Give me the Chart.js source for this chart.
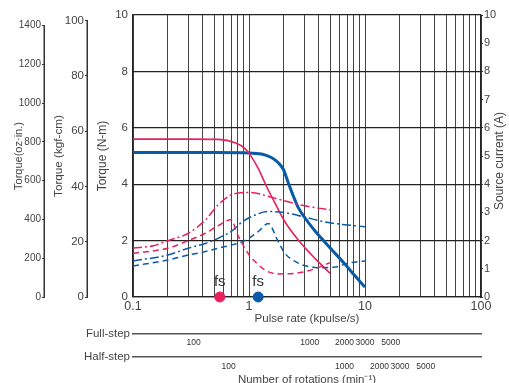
<!DOCTYPE html>
<html>
<head>
<meta charset="utf-8">
<script src="https://cdn.jsdelivr.net/npm/chart.js@4"></script>
<style>
  html, body { margin: 0; padding: 0; overflow: hidden; background: #fff; }
  #wrap { width: 509px; height: 388px; }
</style>
</head>
<body>
<div id="wrap"><canvas id="torqueChart"></canvas></div>
<script>
const RED = '#e8205c';
const BLUE = '#0a5aa8';
const INK = '#444';
const GRID = '#444';
const FONT = "'Liberation Sans', Arial, sans-serif";

// axis ticks
const pulseTicks = [0.1, 0.2, 0.3, 0.4, 0.5, 0.6, 0.7, 0.8, 0.9, 1, 2, 3, 4, 5, 6, 7, 8, 9, 10, 20, 30, 40, 50, 60, 70, 80, 90, 100];
const pulseLabels = [0.1, 1, 10, 100];
const nmTicks = [0, 2, 4, 6, 8, 10];
const kgfTicks = [0, 20, 40, 60, 80, 100];
const ozTicks = [0, 200, 400, 600, 800, 1000, 1200, 1400];
const ampTicks = [0, 1, 2, 3, 4, 5, 6, 7, 8, 9, 10];
const fullStepRpm = [100, 1000, 2000, 3000, 5000];
const halfStepRpm = [100, 1000, 2000, 3000, 5000];

// pulse rate 0.1..100 kpulse/s expressed in rpm (200 steps/rev full, 400 half)
const fullStepRange = [30, 30000];
const halfStepRange = [15, 15000];
const kgfMax = 102;
const ozMax = 1455;

// pull-out torque (N-m)
const redTorqueX = [0.1, 0.3, 0.55, 0.76, 0.92, 1.05, 1.2, 1.42, 1.68, 2.04, 2.66, 3.47, 4.24, 5.0];
const redTorqueY = [5.6, 5.6, 5.59, 5.47, 5.27, 4.97, 4.56, 3.91, 3.32, 2.67, 2.02, 1.49, 1.13, 0.84];
const blueTorqueX = [0.1, 0.5, 1.0, 1.28, 1.57, 1.79, 1.98, 2.18, 2.41, 2.66, 3.03, 3.71, 4.83, 6.73, 8.2, 10];
const blueTorqueY = [5.12, 5.12, 5.11, 5.07, 4.94, 4.76, 4.52, 4.05, 3.58, 3.17, 2.81, 2.34, 1.81, 1.16, 0.75, 0.35];

// source current (A)
const redDashDotX = [0.1, 0.15, 0.2, 0.3, 0.42, 0.54, 0.7, 1.0, 1.68, 2.8, 5.0];
const redDashDotY = [1.73, 1.82, 2.0, 2.26, 2.73, 3.26, 3.62, 3.71, 3.5, 3.26, 3.09];
const redDashX = [0.1, 0.2, 0.3, 0.42, 0.54, 0.7, 0.8, 0.9, 1.0, 1.2, 1.45, 1.8, 2.5, 3.7, 5.0];
const redDashY = [1.55, 1.73, 2.0, 2.26, 2.52, 2.74, 2.2, 1.8, 1.5, 1.15, 0.9, 0.82, 0.84, 1.0, 1.22];
const blueDashDotX = [0.1, 0.2, 0.3, 0.42, 0.54, 0.7, 0.88, 1.05, 1.47, 2.04, 3.03, 4.83, 10];
const blueDashDotY = [1.28, 1.49, 1.73, 1.9, 2.08, 2.32, 2.67, 2.85, 3.03, 2.99, 2.83, 2.64, 2.49];
const blueDashX = [0.1, 0.2, 0.3, 0.42, 0.54, 0.7, 0.88, 1.05, 1.25, 1.46, 1.79, 2.04, 2.66, 3.47, 4.24, 5.5, 7.2, 10];
const blueDashY = [1.10, 1.31, 1.49, 1.61, 1.73, 1.84, 1.96, 2.14, 2.38, 2.61, 1.96, 1.55, 1.2, 1.06, 1.04, 1.06, 1.2, 1.28];

// fs (start frequency) markers, kpulse/s
const fsRed = 0.56;
const fsBlue = 1.2;

const pts = (xs, ys) => xs.map((x, i) => ({ x: x, y: ys[i] }));
const setTicks = (values) => (scale) => { scale.ticks = values.map(v => ({ value: v })); };
const fixWidth = (w) => (scale) => { scale.width = w; };
const fixHeight = (h) => (scale) => { scale.height = h; };
const plain = (v) => String(v);

const curve = (label, xs, ys, color, width, dash, axis) => ({
    label: label,
    data: pts(xs, ys),
    borderColor: color,
    borderWidth: width,
    borderDash: dash,
    pointRadius: 0,
    fill: false,
    cubicInterpolationMode: 'monotone',
    yAxisID: axis
});

const marker = (x, color) => ({
    label: 'fs',
    data: [{ x: x, y: 0 }],
    showLine: false,
    pointRadius: 5,
    pointBackgroundColor: color,
    pointBorderColor: color,
    clip: false,
    yAxisID: 'y'
});

// things that are not plain axes: short spines, step labels, fs text, right title
const extras = {
    id: 'extras',
    afterDraw(chart) {
        const ctx = chart.ctx;
        ctx.save();
        ['yOz', 'yKgf'].forEach(id => {
            const s = chart.scales[id];
            const t = s.ticks;
            ctx.strokeStyle = '#333';
            ctx.lineWidth = 1.5;
            ctx.beginPath();
            ctx.moveTo(s.right - 0.75, s.getPixelForValue(t[0].value) + 0.5);
            ctx.lineTo(s.right - 0.75, s.getPixelForValue(t[t.length - 1].value));
            ctx.stroke();
        });

        ctx.fillStyle = INK;
        ctx.font = '11.5px ' + FONT;
        ctx.textAlign = 'right';
        ctx.textBaseline = 'middle';
        ctx.fillText('Full-step', chart.scales.xFull.left - 3, chart.scales.xFull.top);
        ctx.fillText('Half-step', chart.scales.xHalf.left - 3, chart.scales.xHalf.top);

        ctx.fillStyle = '#333';
        ctx.font = '15px ' + FONT;
        ctx.textAlign = 'center';
        chart.data.datasets.forEach((ds, i) => {
            if (ds.label !== 'fs') return;
            const p = chart.getDatasetMeta(i).data[0];
            ctx.fillText('fs', p.x, p.y - 15);
        });

        const a = chart.scales.yA;
        ctx.fillStyle = INK;
        ctx.font = '12px ' + FONT;
        ctx.translate(a.right - 9, (a.top + a.bottom) / 2 + 5);
        ctx.rotate(-Math.PI / 2);
        ctx.fillText('Source current (A)', 0, 0);
        ctx.restore();
    }
};

Chart.defaults.font.family = FONT;
Chart.defaults.color = INK;

new Chart(document.getElementById('torqueChart'), {
    type: 'line',
    data: {
        datasets: [
            curve('red current 2', redDashX, redDashY, RED, 1.5, [6, 4], 'yA'),
            curve('red current 1', redDashDotX, redDashDotY, RED, 1.5, [9, 3, 2, 3], 'yA'),
            curve('blue current 2', blueDashX, blueDashY, BLUE, 1.5, [6, 4], 'yA'),
            curve('blue current 1', blueDashDotX, blueDashDotY, BLUE, 1.5, [9, 3, 2, 3], 'yA'),
            curve('red torque', redTorqueX, redTorqueY, RED, 1.6, [], 'y'),
            curve('blue torque', blueTorqueX, blueTorqueY, BLUE, 3, [], 'y'),
            marker(fsRed, RED),
            marker(fsBlue, BLUE)
        ]
    },
    options: {
        responsive: true,
        maintainAspectRatio: false,
        animation: false,
        layout: { padding: { top: 15, left: 0, right: 0, bottom: 0 } },
        plugins: { legend: { display: false }, tooltip: { enabled: false } },
        scales: {
            x: {
                type: 'logarithmic',
                position: 'bottom',
                weight: 0,
                min: 0.1,
                max: 100,
                afterBuildTicks: setTicks(pulseTicks),
                afterFit: fixHeight(37),
                grid: { color: GRID, lineWidth: 1, drawTicks: false },
                border: { display: true, color: '#222', width: 1.3 },
                ticks: {
                    autoSkip: false,
                    maxRotation: 0,
                    padding: 2,
                    font: { size: 12.5 },
                    callback: (v) => pulseLabels.includes(v) ? String(v) : ''
                },
                title: { display: true, text: 'Pulse rate (kpulse/s)', font: { size: 11.5 }, padding: { top: 0, bottom: 8 } }
            },
            xFull: {
                type: 'logarithmic',
                position: 'bottom',
                weight: 1,
                min: fullStepRange[0],
                max: fullStepRange[1],
                afterBuildTicks: setTicks(fullStepRpm),
                afterFit: fixHeight(23),
                grid: { display: false, drawTicks: false },
                border: { display: true, color: '#555', width: 1.5 },
                ticks: {
                    autoSkip: false,
                    maxRotation: 0,
                    padding: 4,
                    color: '#333',
                    font: { size: 8.5, family: "'Liberation Sans Narrow', " + FONT },
                    callback: plain
                }
            },
            xHalf: {
                type: 'logarithmic',
                position: 'bottom',
                weight: 2,
                min: halfStepRange[0],
                max: halfStepRange[1],
                afterBuildTicks: setTicks(halfStepRpm),
                afterFit: fixHeight(31),
                grid: { display: false, drawTicks: false },
                border: { display: true, color: '#555', width: 1.5 },
                ticks: {
                    autoSkip: false,
                    maxRotation: 0,
                    padding: 5,
                    color: '#333',
                    font: { size: 8.5, family: "'Liberation Sans Narrow', " + FONT },
                    callback: plain
                },
                title: { display: true, text: 'Number of rotations (min\u207B\u00B9)', font: { size: 11.5 }, padding: { top: 0, bottom: 1 } }
            },
            y: {
                type: 'linear',
                position: 'left',
                weight: 0,
                min: 0,
                max: 10,
                afterBuildTicks: setTicks(nmTicks),
                afterFit: fixWidth(45),
                grid: { color: '#222', lineWidth: 1.3, drawTicks: false },
                border: { display: true, color: '#222', width: 1.3 },
                ticks: { autoSkip: false, padding: 5, font: { size: 11.5 }, callback: plain },
                title: { display: true, text: 'Torque (N-m)', font: { size: 12 }, padding: { top: 7, bottom: 0 } }
            },
            yKgf: {
                type: 'linear',
                position: 'left',
                weight: 1,
                min: 0,
                max: kgfMax,
                afterBuildTicks: setTicks(kgfTicks),
                afterFit: fixWidth(43),
                grid: { color: '#333', drawOnChartArea: false, drawTicks: true, tickLength: 3 },
                border: { display: false },
                ticks: { autoSkip: false, padding: 1, font: { size: 11.5 }, callback: plain },
                title: { display: true, text: 'Torque (kgf-cm)', font: { size: 11.7 }, padding: { top: 6.5, bottom: 0 } }
            },
            yOz: {
                type: 'linear',
                position: 'left',
                weight: 2,
                min: 0,
                max: ozMax,
                afterBuildTicks: setTicks(ozTicks),
                afterFit: fixWidth(45),
                grid: { color: '#333', drawOnChartArea: false, drawTicks: true, tickLength: 3 },
                border: { display: false },
                ticks: { autoSkip: false, padding: 1, font: { size: 10 }, callback: plain },
                title: { display: true, text: 'Torque(oz\u00B7in.)', font: { size: 11 }, padding: { top: 12.5, bottom: 0 } }
            },
            yA: {
                type: 'linear',
                position: 'right',
                weight: 0,
                min: 0,
                max: 10,
                afterBuildTicks: setTicks(ampTicks),
                afterFit: fixWidth(28),
                grid: { color: '#333', drawOnChartArea: false, drawTicks: true, tickLength: 2 },
                border: { display: true, color: '#222', width: 1.3 },
                ticks: { autoSkip: false, padding: 1, font: { size: 11 }, callback: plain }
            }
        }
    },
    plugins: [extras]
});
</script>
</body>
</html>
